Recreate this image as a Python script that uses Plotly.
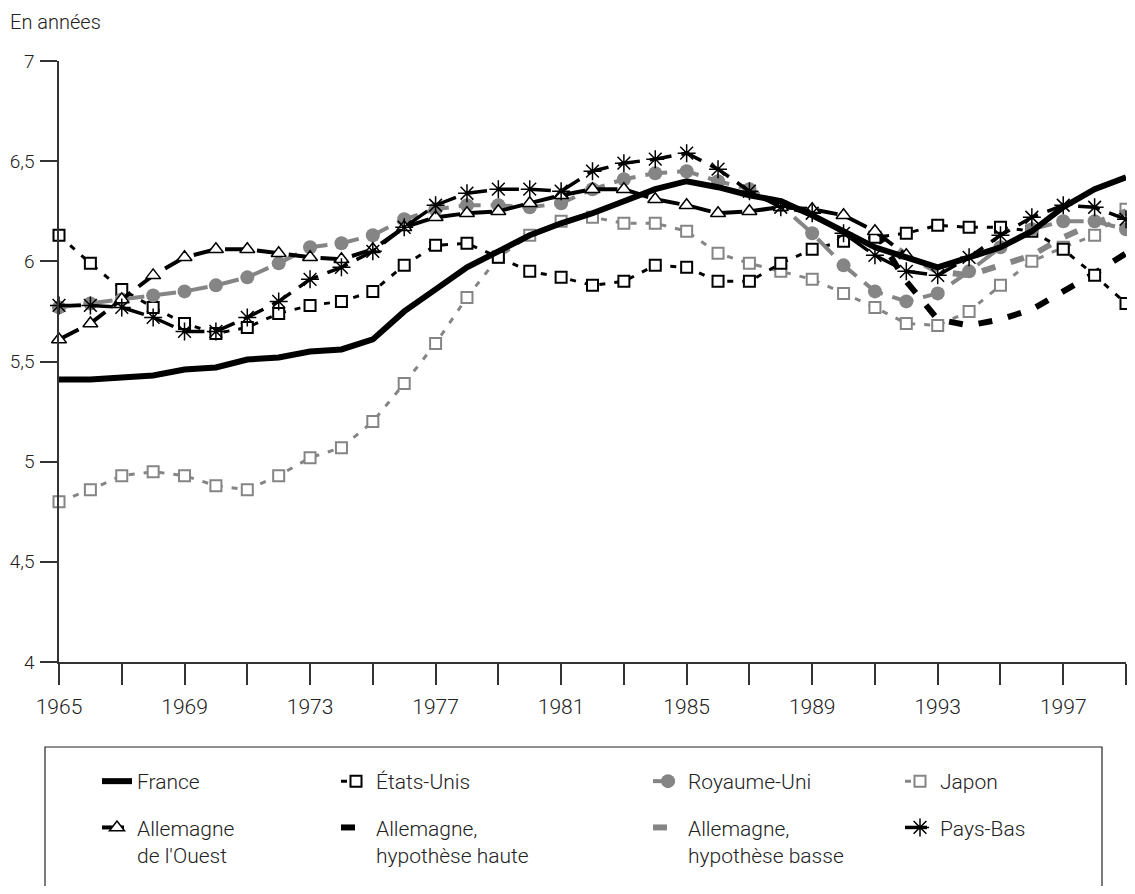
import plotly.graph_objects as go

years = list(range(1965, 2000))
years_wg = list(range(1965, 1993))
years_hyp = list(range(1991, 2000))

france = [5.41, 5.41, 5.42, 5.43, 5.46, 5.47, 5.51, 5.52, 5.55, 5.56,
          5.61, 5.75, 5.86, 5.97, 6.05, 6.13, 6.19, 6.24, 6.30, 6.36,
          6.40, 6.37, 6.33, 6.30, 6.23, 6.15, 6.07, 6.02, 5.97, 6.02,
          6.07, 6.15, 6.27, 6.36, 6.42]
etats_unis = [6.13, 5.99, 5.86, 5.77, 5.69, 5.64, 5.67, 5.74, 5.78, 5.80,
              5.85, 5.98, 6.08, 6.09, 6.02, 5.95, 5.92, 5.88, 5.90, 5.98,
              5.97, 5.90, 5.90, 5.99, 6.06, 6.10, 6.12, 6.14, 6.18, 6.17,
              6.17, 6.15, 6.06, 5.93, 5.79]
japon = [4.80, 4.86, 4.93, 4.95, 4.93, 4.88, 4.86, 4.93, 5.02, 5.07,
         5.20, 5.39, 5.59, 5.82, 6.02, 6.13, 6.20, 6.22, 6.19, 6.19,
         6.15, 6.04, 5.99, 5.95, 5.91, 5.84, 5.77, 5.69, 5.68, 5.75,
         5.88, 6.00, 6.07, 6.13, 6.26]
royaume_uni = [5.77, 5.79, 5.81, 5.83, 5.85, 5.88, 5.92, 5.99, 6.07, 6.09,
               6.13, 6.21, 6.26, 6.28, 6.28, 6.27, 6.29, 6.36, 6.41, 6.44,
               6.45, 6.40, 6.36, 6.28, 6.14, 5.98, 5.85, 5.80, 5.84, 5.95,
               6.07, 6.16, 6.20, 6.20, 6.16]
allemagne_ouest = [5.61, 5.69, 5.81, 5.93, 6.02, 6.06, 6.06, 6.04, 6.02, 6.01,
                   6.06, 6.17, 6.22, 6.24, 6.25, 6.29, 6.33, 6.36, 6.36, 6.31,
                   6.28, 6.24, 6.25, 6.27, 6.26, 6.23, 6.15, 6.03]
pays_bas = [5.78, 5.78, 5.77, 5.72, 5.65, 5.65, 5.72, 5.80, 5.91, 5.97,
            6.05, 6.17, 6.28, 6.34, 6.36, 6.36, 6.35, 6.45, 6.49, 6.51,
            6.54, 6.46, 6.35, 6.27, 6.24, 6.14, 6.03, 5.95, 5.93, 6.02,
            6.13, 6.22, 6.28, 6.27, 6.21]
allemagne_haute = [6.15, 5.90, 5.71, 5.68, 5.71, 5.76, 5.85, 5.94, 6.04]
allemagne_basse = [6.15, 6.03, 5.95, 5.93, 5.98, 6.03, 6.12, 6.19, 6.25]

x_tickvals = [1965, 1969, 1973, 1977, 1981, 1985, 1989, 1993, 1997]
x_ticktext = ["1965", "1969", "1973", "1977", "1981", "1985", "1989", "1993", "1997"]
y_tickvals = [4, 4.5, 5, 5.5, 6, 6.5, 7]
y_ticktext = ["4", "4,5", "5", "5,5", "6", "6,5", "7"]

GRAY = "#858585"
BLACK = "#000000"
FONT = "Roboto, Liberation Sans, sans-serif"
TXT = "#222"

# page body has an 8px margin: figure coords = screen coords - 8
OFF = 8
W, H = 1135 - 2 * OFF, 894 - 2 * OFF
# plot area in screen pixels: x 59..1126, y 61..662
PL, PR, PT, PB = 59 - OFF, 1126 - OFF, 61 - OFF, 662 - OFF
PW, PH = PR - PL, PB - PT


def px_x(sx):
    return (sx - OFF - PL) / PW


def px_y(sy):
    return (PB - (sy - OFF)) / PH


fig = go.Figure()

fig.add_trace(go.Scatter(
    x=years, y=japon, name="Japon", mode="lines+markers",
    legend="legend4", legendgroup="jp", legendrank=1,
    line=dict(color=GRAY, width=3, dash="6px,9px"),
    marker=dict(symbol="square", size=11, color="white", line=dict(color=GRAY, width=2)),
    cliponaxis=False))
fig.add_trace(go.Scatter(
    x=years_hyp, y=allemagne_basse, name="Allemagne,<br>hypothèse basse", mode="lines",
    legend="legend3", legendgroup="ab", legendrank=2,
    line=dict(color=GRAY, width=6, dash="14px,16px"), cliponaxis=False))
fig.add_trace(go.Scatter(
    x=years_hyp, y=allemagne_haute, name="Allemagne,<br>hypothèse haute", mode="lines",
    legend="legend2", legendgroup="ah", legendrank=2,
    line=dict(color=BLACK, width=6, dash="14px,16px"), cliponaxis=False))
fig.add_trace(go.Scatter(
    x=years, y=etats_unis, name="États-Unis", mode="lines+markers",
    legend="legend2", legendgroup="us", legendrank=1,
    line=dict(color=BLACK, width=3, dash="6px,9px"),
    marker=dict(symbol="square", size=11, color="white", line=dict(color=BLACK, width=2)),
    cliponaxis=False))
fig.add_trace(go.Scatter(
    x=years, y=royaume_uni, name="Royaume-Uni", mode="lines+markers",
    legend="legend3", legendgroup="uk", legendrank=1,
    line=dict(color=GRAY, width=4, dash="22px,10px"),
    marker=dict(symbol="circle", size=14, color=GRAY),
    cliponaxis=False))
fig.add_trace(go.Scatter(
    x=years_wg, y=allemagne_ouest, name="Allemagne<br>de l'Ouest", mode="lines+markers",
    legend="legend", legendgroup="wg", legendrank=2,
    line=dict(color=BLACK, width=4, dash="22px,10px"),
    marker=dict(symbol="triangle-up", size=13, color="white", line=dict(color=BLACK, width=1.5)),
    cliponaxis=False))
fig.add_trace(go.Scatter(
    x=years, y=pays_bas, name="Pays-Bas", mode="lines+markers",
    legend="legend4", legendgroup="nl", legendrank=2,
    line=dict(color=BLACK, width=3.5, dash="22px,10px"),
    marker=dict(symbol="asterisk-open", size=15, color=BLACK, line=dict(color=BLACK, width=1.5)),
    cliponaxis=False))
fig.add_trace(go.Scatter(
    x=years, y=france, name="France", mode="lines",
    legend="legend", legendgroup="fr", legendrank=1,
    line=dict(color=BLACK, width=6), cliponaxis=False))

legend_common = dict(orientation="v", xanchor="left", yanchor="top", y=px_y(761),
                     valign="top", tracegroupgap=16, traceorder="grouped",
                     font=dict(family=FONT, size=21, color=TXT, weight=300),
                     bgcolor="rgba(0,0,0,0)", borderwidth=0)

fig.update_layout(
    width=W, height=H,
    margin=dict(l=PL, r=W - PR, t=PT, b=H - PB, autoexpand=False),
    plot_bgcolor="white", paper_bgcolor="white",
    font=dict(family=FONT, size=20, color=TXT),
    title=dict(text="En années", xref="container", yref="container",
               x=2 / W, xanchor="left", y=1 - (22 - OFF) / H, yanchor="middle",
               font=dict(family=FONT, size=20, color=TXT, weight=300)),
    xaxis=dict(range=[1965, 1999], showline=True, linecolor="#333", linewidth=1.5,
               ticks="outside", ticklen=21, tickwidth=1.5, tickcolor="#333",
               tickvals=x_tickvals, ticktext=x_ticktext, ticklabelstandoff=4,
               minor=dict(dtick=2, tick0=1965, ticks="outside", ticklen=21,
                          tickwidth=1.5, tickcolor="#333", showgrid=False),
               showgrid=False, zeroline=False, automargin=False,
               tickfont=dict(family=FONT, size=21, color=TXT, weight=300)),
    yaxis=dict(range=[4, 7], showline=True, linecolor="#333", linewidth=1.5,
               ticks="outside", ticklen=17, tickwidth=1.5, tickcolor="#333",
               tickvals=y_tickvals, ticktext=y_ticktext, ticklabelstandoff=2,
               showgrid=False, zeroline=False, automargin=False,
               tickfont=dict(family=FONT, size=19, color=TXT, weight=300)),
    legend=dict(x=px_x(97), **legend_common),
    legend2=dict(x=px_x(336), **legend_common),
    legend3=dict(x=px_x(648), **legend_common),
    legend4=dict(x=px_x(900), **legend_common),
    shapes=[dict(type="rect", xref="paper", yref="paper",
                 x0=px_x(45), x1=px_x(1102),
                 y0=px_y(747), y1=px_y(910),
                 line=dict(color="#222", width=1.2), fillcolor="rgba(0,0,0,0)")],
)

fig.write_html("out.html")
